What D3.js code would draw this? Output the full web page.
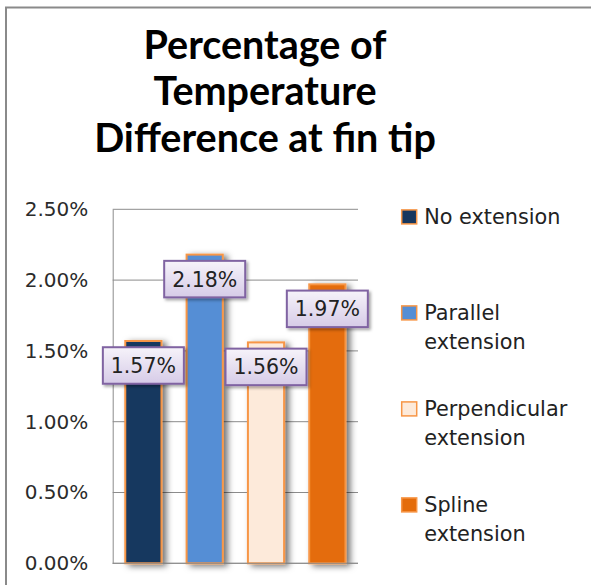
<!DOCTYPE html>
<html>
<head>
<meta charset="utf-8">
<script src="https://cdn.jsdelivr.net/npm/d3@7"></script>
<style>
  html, body { margin: 0; padding: 0; background: #fff; }
  svg { display: block; }
</style>
</head>
<body>
<div id="chart"></div>
<script>
// ---- data ----
const categories = ["No extension", "Parallel extension", "Perpendicular extension", "Spline extension"];
const values = [0.0157, 0.0218, 0.0156, 0.0197];
const valueLabels = ["1.57%", "2.18%", "1.56%", "1.97%"];
const colors = ["#17375e", "#558ed5", "#fdeada", "#e46c0a"];
const legendLines = [["No extension"], ["Parallel", "extension"], ["Perpendicular", "extension"], ["Spline", "extension"]];
const yTicks = [0, 0.005, 0.01, 0.015, 0.02, 0.025];
const titleLines = ["Percentage of", "Temperature", "Difference at fin tip"];

// ---- layout ----
const W = 591, H = 585;
const plot = { left: 112.7, right: 358, top: 209.3, bottom: 563.3 };
const bodyFont = "'DejaVu Sans', 'Open Sans', sans-serif";

const svg = d3.select("#chart").append("svg").attr("width", W).attr("height", H);
const defs = svg.append("defs");

const shadow = defs.append("filter").attr("id", "shadow")
  .attr("x", "-20%").attr("y", "-10%").attr("width", "160%").attr("height", "130%");
shadow.append("feDropShadow").attr("dx", 4).attr("dy", 2).attr("stdDeviation", 3)
  .attr("flood-color", "#000").attr("flood-opacity", 0.55);

const lshadow = defs.append("filter").attr("id", "lshadow")
  .attr("x", "-10%").attr("y", "-20%").attr("width", "130%").attr("height", "160%");
lshadow.append("feDropShadow").attr("dx", 2).attr("dy", 2).attr("stdDeviation", 1.5)
  .attr("flood-color", "#000").attr("flood-opacity", 0.35);

const grad = defs.append("linearGradient").attr("id", "lblgrad")
  .attr("x1", 0).attr("y1", 0).attr("x2", 0).attr("y2", 1);
grad.append("stop").attr("offset", "0%").attr("stop-color", "#f6f3fa");
grad.append("stop").attr("offset", "100%").attr("stop-color", "#d6cbe7");

// outer frame (only top and left visible)
svg.append("line").attr("x1", 5).attr("x2", W).attr("y1", 7.5).attr("y2", 7.5)
  .attr("stroke", "#8a8a8a").attr("stroke-width", 2);
svg.append("line").attr("x1", 6).attr("x2", 6).attr("y1", 7).attr("y2", H)
  .attr("stroke", "#8a8a8a").attr("stroke-width", 2);

// title
const title = svg.append("text").attr("text-anchor", "middle")
  .attr("font-family", "Lato, 'Open Sans', sans-serif").attr("font-weight", "bold")
  .attr("font-size", 39.5).attr("fill", "#000");
titleLines.forEach((t, i) => {
  title.append("tspan").attr("x", 265).attr("y", 58.5 + i * 46.5).text(t);
});

// scales
const x = d3.scaleBand().domain(categories).range([plot.left, plot.right]).paddingInner(0).paddingOuter(0);
const barW = x.bandwidth() * 0.59;
const y = d3.scaleLinear().domain([0, 0.025]).range([plot.bottom, plot.top]);

// gridlines
svg.append("g").selectAll("line").data(yTicks).join("line")
  .attr("x1", plot.left).attr("x2", plot.right)
  .attr("y1", d => y(d)).attr("y2", d => y(d))
  .attr("stroke", "#8c8c8c").attr("stroke-width", 1);

// y axis
const yAxis = svg.append("g").attr("transform", `translate(${plot.left},0)`)
  .call(d3.axisLeft(y).tickValues(yTicks).tickFormat(d3.format(".2%")).tickSize(0).tickPadding(24.5));
yAxis.select(".domain").attr("stroke", "#8c8c8c");
yAxis.selectAll("text").attr("font-family", bodyFont).attr("font-size", 20)
  .attr("fill", "#2b2b2b");

// bars
svg.append("g").selectAll("rect").data(categories).join("rect")
  .attr("x", d => x(d) + (x.bandwidth() - barW) / 2)
  .attr("width", barW)
  .attr("y", (d, i) => y(values[i]))
  .attr("height", (d, i) => y(0) - y(values[i]))
  .attr("fill", (d, i) => colors[i])
  .attr("stroke", "#f79646").attr("stroke-width", 2)
  .attr("filter", "url(#shadow)");

// bottom axis line
svg.append("line").attr("x1", plot.left).attr("x2", plot.right)
  .attr("y1", plot.bottom).attr("y2", plot.bottom).attr("stroke", "#8c8c8c");

// data labels
const lblW = 81, lblH = 36.5;
const lbl = svg.append("g").selectAll("g").data(categories).join("g")
  .attr("transform", (d, i) => `translate(${x(d) + x.bandwidth() / 2},${y(values[i]) + 24.5})`);
lbl.append("rect").attr("x", -lblW / 2).attr("y", -lblH / 2).attr("width", lblW).attr("height", lblH)
  .attr("fill", "url(#lblgrad)").attr("stroke", "#8064a2").attr("stroke-width", 2)
  .attr("filter", "url(#lshadow)");
lbl.append("text").attr("text-anchor", "middle").attr("dy", "0.36em")
  .attr("font-family", bodyFont).attr("font-size", 20.5).attr("fill", "#222")
  .text((d, i) => valueLabels[i]);

// legend
const leg = svg.append("g").selectAll("g").data(categories).join("g")
  .attr("transform", (d, i) => `translate(401.7,${216.7 + i * 96})`);
leg.append("rect").attr("x", 0).attr("y", -6.8).attr("width", 15).attr("height", 14)
  .attr("fill", (d, i) => colors[i]).attr("stroke", "#f79646").attr("stroke-width", 1.5);
leg.append("text").attr("font-family", bodyFont).attr("font-size", 20.8)
  .attr("fill", "#222")
  .selectAll("tspan").data((d, i) => legendLines[i]).join("tspan")
  .attr("x", 22.5).attr("y", (t, j) => j * 29).attr("dy", "0.36em").text(t => t);
</script>
</body>
</html>
